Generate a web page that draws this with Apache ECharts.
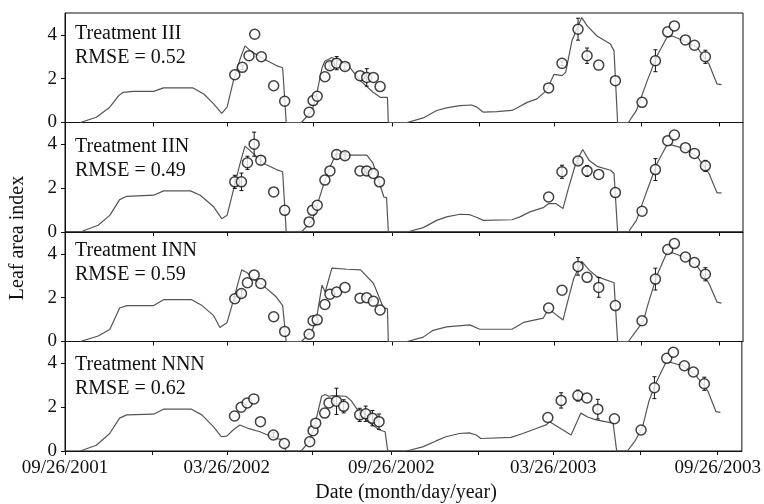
<!DOCTYPE html>
<html lang="en">
<head>
  <meta charset="UTF-8">
  <title>Leaf area index</title>
  <script src="https://cdn.jsdelivr.net/npm/echarts@6/dist/echarts.min.js"></script>
  <style>
    body { margin: 0; background: #fff; }
    #main { width: 764px; height: 504px; }
  </style>
</head>
<body>
<div id="main"></div>
<script>
  // days counted from 09/26/2001
  var tickDays = [0, 98, 181, 277, 365, 462, 546, 643, 730];
  var labelDays = [0, 181, 365, 546, 730];
  var dateLabels = ['09/26/2001', '03/26/2002', '09/26/2002', '03/26/2003', '09/26/2003'];
  var yTicks = [0, 2, 4];

  var treatments = ['Treatment III', 'Treatment IIN', 'Treatment INN', 'Treatment NNN'];
  var rmse = ['0.52', '0.49', '0.59', '0.62'];

  // simulated LAI [day, value]
  var simIII = [[17,0],[35,0.24],[50,0.7],[60,1.23],[65,1.38],[76,1.42],[99,1.42],[110,1.58],[143,1.58],[155,1.3],[166,0.85],[175,0.42],[181,0.7],[188,1.9],[195.5,2.9],[201,3.5],[207,3.27],[222,2.9],[236,2.6],[243,2.5],[247,0],[264,0],[276,0.55],[281,1.3],[287,2.5],[290,2.8],[298,2.97],[315,2.67],[330,1.9],[344,1.38],[352,1.15],[360,1.15],[361,0],[382,0],[400,0.21],[415,0.55],[426,0.67],[441,0.77],[454,0.8],[460,0.7],[467,0.47],[482,0.5],[499,0.55],[505,0.67],[516,0.92],[527,1.08],[538,1.48],[546,2.2],[555,2.14],[559,2.29],[566,3.73],[572,4.33],[577,4.79],[583,4.41],[594,3.95],[609,3.58],[613,3.27],[617,0],[629,0],[638,0.55],[650,1.9],[661,3.05],[672,3.88],[678,3.95],[691,3.73],[706,3.42],[719,2.67],[728,1.76],[733,1.73]];
  var simIIN = [[17,0],[37,0.31],[50,0.76],[61,1.48],[69,1.63],[99,1.68],[110,1.88],[140,1.88],[151,1.68],[166,1.15],[175,0.61],[181,0.76],[188,1.91],[195.5,3.13],[201,3.92],[210,3.59],[222,3.13],[236,2.85],[243,2.75],[247,0],[264,0],[276,0.53],[281,1.15],[289,2.21],[296,2.98],[303,3.59],[315,3.51],[337,3.51],[344,3.13],[356,1.6],[359,1.57],[361,0],[382,0],[400,0.2],[415,0.53],[426,0.69],[441,0.81],[452,0.79],[460,0.66],[467,0.53],[499,0.56],[508,0.69],[519,0.92],[534,1.11],[540,1.3],[548,1.3],[556,1.07],[562,1.98],[568,2.82],[571,3.21],[578,3.77],[585,3.28],[594,3.0],[609,2.82],[613,2.67],[617,0],[629,0],[638,0.53],[650,1.91],[661,3.13],[672,3.97],[678,3.97],[691,3.82],[706,3.44],[719,2.67],[728,1.79],[733,1.79]];
  var simINN = [[17,0],[37,0.25],[50,0.55],[61,1.53],[69,1.64],[99,1.64],[110,1.91],[141.5,1.91],[153,1.64],[166,1.18],[173,0.64],[181,0.87],[188,1.88],[193.6,2.73],[197.3,3.27],[203,3.15],[210,2.88],[222,2.53],[236,2.03],[243,1.64],[247,0],[264,0],[276,0.5],[281,1.1],[287,2.57],[290.5,2.26],[298,3.35],[315,3.3],[330,3.27],[344.5,2.65],[355.6,1.53],[360,1.5],[361,0],[382,0],[400,0.2],[411,0.51],[426,0.67],[452,0.76],[463,0.56],[499,0.56],[512,0.87],[534,1.07],[540,1.49],[556,0.98],[562,1.95],[568,2.88],[577,3.66],[585,3.27],[594,2.96],[613,2.68],[617,0],[629,0],[638,0.5],[646,0.95],[650,1.57],[661,3.04],[672,4.05],[678,4.05],[691,3.86],[706,3.43],[719,2.65],[728,1.8],[733,1.75]];
  var simNNN = [[17,0],[35,0.26],[50,0.8],[61,1.5],[69,1.65],[99,1.68],[110,1.91],[141.5,1.91],[153,1.65],[166,1.11],[175,0.65],[181,0.68],[188,0.96],[195.5,1.19],[205,1.03],[218,0.88],[236,0.57],[243,0.52],[247,0],[264,0],[273,0.42],[279,1.11],[287,2.5],[291,2.58],[295,2.5],[300,2.53],[314,2.5],[320,2.3],[331,1.65],[340,1.3],[352,0.96],[358,0.88],[360,0.88],[361,0],[382,0],[400,0.19],[415,0.46],[426,0.65],[441,0.8],[452,0.83],[460,0.73],[465,0.57],[499,0.62],[512,0.8],[527,1.03],[538,1.19],[542,1.34],[566,0.73],[577,1.73],[585,1.54],[594,1.42],[613,1.27],[617,0],[629,0],[638,0.49],[646,1.11],[653,2.27],[661,3.12],[672,4.04],[678,4.04],[691,3.89],[706,3.43],[719,2.73],[728,1.8],[733,1.76]];

  // observed LAI [day, value, error]
  var obsIII = [[189.6,2.18,0],[198,2.52,0.1],[205.5,3.05,0],[211.8,4.03,0],[219.2,3.0,0],[233,1.68,0],[245.3,0.97,0],[272.6,0.47,0],[277,1.0,0],[281.6,1.2,0],[290.2,2.09,0],[295.8,2.59,0.15],[303.3,2.71,0.3],[312.6,2.56,0.15],[329.4,2.14,0],[336.9,2.06,0.4],[344.3,2.06,0],[351.8,1.64,0],[540,1.58,0],[554.9,2.7,0.1],[572.8,4.26,0.5],[582.9,3.05,0.35],[595.9,2.62,0],[614.5,1.91,0],[644.3,0.92,0],[659.2,2.82,0.5],[673,4.14,0],[680.4,4.41,0],[692.7,3.77,0],[702.8,3.53,0],[715,3.0,0.3]];
  var obsIIN = [[189.6,2.29,0.3],[197,2.29,0.4],[203.7,3.16,0.3],[211.2,4.01,0.55],[218.6,3.28,0.2],[233,1.83,0],[245.3,0.99,0],[272.6,0.46,0],[276.3,0.99,0],[281.6,1.22,0],[290.2,2.37,0],[295.8,2.79,0],[303.3,3.54,0.2],[312.6,3.48,0.15],[329.4,2.79,0],[336.9,2.79,0.2],[344.3,2.67,0],[351.1,2.29,0],[540,1.6,0],[554.9,2.75,0.3],[572.8,3.24,0.15],[582.9,2.79,0.25],[595.9,2.63,0],[614.5,1.8,0],[644.3,0.95,0],[659.2,2.85,0.5],[673,4.17,0],[680.4,4.43,0],[692.7,3.85,0],[702.8,3.59,0],[715,3.02,0.25]];
  var obsINN = [[189.6,1.95,0.1],[197,2.19,0.15],[203.7,2.68,0],[211.2,3.04,0],[218.6,2.65,0],[233,1.13,0],[245.3,0.46,0],[272.6,0.33,0],[277,0.95,0],[281.6,0.99,0],[290.2,1.69,0],[295.8,2.16,0],[303.3,2.26,0],[312.6,2.47,0],[329.4,1.98,0],[336.9,2.0,0],[344.3,1.84,0],[351.8,1.44,0],[540,1.53,0],[554.9,2.34,0],[572.8,3.43,0.4],[582.9,2.93,0],[595.9,2.47,0.45],[614.5,1.64,0],[644.3,0.95,0],[659.2,2.85,0.5],[673,4.2,0],[680.4,4.47,0],[692.7,3.86,0],[702.8,3.61,0],[715,3.07,0.3]];
  var obsNNN = [[189.6,1.6,0],[197,2.0,0],[203.7,2.19,0],[211.2,2.38,0],[218.6,1.34,0],[233,0.73,0.1],[245.3,0.34,0],[273.7,0.42,0],[277.4,0.93,0],[280.4,1.27,0],[290.5,1.73,0],[295.3,2.19,0],[303.6,2.27,0.6],[311.7,2.04,0.3],[329.6,1.65,0.3],[336.3,1.7,0.35],[343.8,1.5,0.35],[351.2,1.34,0.35],[540,1.53,0],[554.9,2.31,0.35],[573.6,2.53,0.25],[583.7,2.42,0],[595.9,1.91,0.45],[614.5,1.47,0],[644.3,0.96,0],[659.2,2.89,0.5],[673,4.23,0],[680.4,4.51,0],[692.7,3.89,0],[702.8,3.61,0],[715,3.07,0.3]];

  var sims = [simIII, simIIN, simINN, simNNN];
  var obs = [obsIII, obsIIN, obsINN, obsNNN];

  var font = '"Liberation Serif", "Times New Roman", serif';
  var gridTops = [13, 122.5, 232, 341.5];
  var titleTops = [24, 137, 241, 355];

  function errorItem(params, api) {
    var x = api.value(0);
    var top = api.coord([x, api.value(2)]);
    var bot = api.coord([x, api.value(1)]);
    var st = { stroke: '#111', lineWidth: 1 };
    return {
      type: 'group',
      children: [
        { type: 'line', shape: { x1: top[0], y1: top[1], x2: bot[0], y2: bot[1] }, style: st },
        { type: 'line', shape: { x1: top[0] - 2, y1: top[1], x2: top[0] + 2, y2: top[1] }, style: st },
        { type: 'line', shape: { x1: bot[0] - 2, y1: bot[1], x2: bot[0] + 2, y2: bot[1] }, style: st }
      ]
    };
  }

  var grid = [], xAxis = [], yAxis = [], series = [], graphic = [];
  for (var i = 0; i < 4; i++) {
    var last = i == 3;
    grid.push({
      left: 65, right: 21, top: gridTops[i], height: 109.5,
      show: true, borderColor: '#111', borderWidth: 1
    });
    xAxis.push({
      type: 'value', gridIndex: i, min: 0, max: 757,
      axisLine: { lineStyle: { color: '#111' } },
      axisTick: { length: 4, customValues: tickDays, lineStyle: { color: '#111' } },
      axisLabel: {
        show: last, customValues: labelDays, margin: 8,
        fontFamily: font, fontSize: 19, color: '#111',
        formatter: function (v) { return dateLabels[labelDays.indexOf(v)]; }
      },
      splitLine: { show: false }
    });
    yAxis.push({
      type: 'value', gridIndex: i, min: 0, max: 5,
      axisLine: { show: true, lineStyle: { color: '#111' } },
      axisTick: { show: true, length: 4, customValues: yTicks, lineStyle: { color: '#111' } },
      axisLabel: { customValues: yTicks, margin: 8, fontFamily: font, fontSize: 19, color: '#111' },
      splitLine: { show: false }
    });
    series.push({
      type: 'line', xAxisIndex: i, yAxisIndex: i, data: sims[i],
      showSymbol: false, lineStyle: { color: '#555', width: 1.2 }, z: 2
    });
    var bars = obs[i].filter(function (d) { return d[2] > 0; }).map(function (d) {
      return [d[0], d[1] - d[2], d[1] + d[2]];
    });
    series.push({
      type: 'custom', xAxisIndex: i, yAxisIndex: i, data: bars,
      renderItem: errorItem, encode: { x: 0, y: [1, 2] }, z: 3
    });
    series.push({
      type: 'scatter', xAxisIndex: i, yAxisIndex: i,
      data: obs[i].map(function (d) { return [d[0], d[1]]; }),
      symbol: 'circle', symbolSize: 10,
      itemStyle: { color: '#fff', borderColor: '#111', borderWidth: 1.5 }, z: 4
    });
    graphic.push({
      type: 'text', left: 75, top: titleTops[i],
      style: { text: treatments[i], font: '20px ' + font, fill: '#111' }
    });
    graphic.push({
      type: 'text', left: 75, top: titleTops[i] + 24,
      style: { text: 'RMSE = ' + rmse[i], font: '20px ' + font, fill: '#111' }
    });
  }

  graphic.push({
    type: 'text', x: 18, y: 238, rotation: Math.PI / 2,
    style: { text: 'Leaf area index', font: '20px ' + font, fill: '#111', align: 'center', verticalAlign: 'middle' }
  });
  graphic.push({
    type: 'text', x: 406, y: 493,
    style: { text: 'Date (month/day/year)', font: '20px ' + font, fill: '#111', align: 'center', verticalAlign: 'middle' }
  });

  var myChart = echarts.init(document.getElementById('main'));
  myChart.setOption({
    animation: false,
    grid: grid,
    xAxis: xAxis,
    yAxis: yAxis,
    series: series,
    graphic: graphic
  });
</script>
</body>
</html>
